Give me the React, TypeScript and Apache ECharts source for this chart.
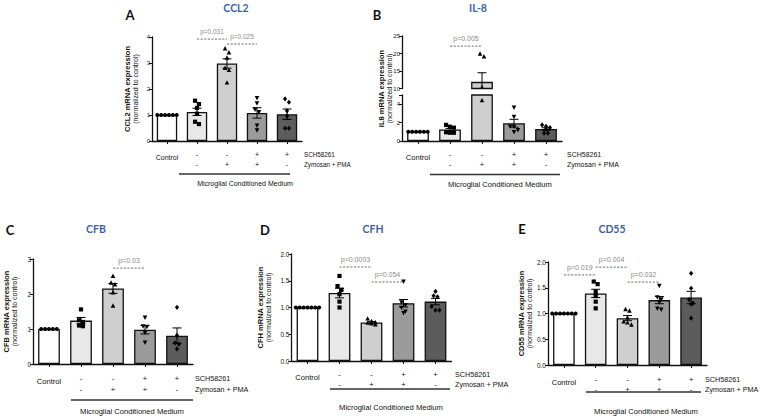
import React, { useEffect, useRef } from "react";
import * as echarts from "echarts";

// ---------- data ----------
const groups = ["Control", "MCM", "MCM + Zymosan/PMA", "MCM + SCH58261 + Zymosan/PMA", "MCM + SCH58261"];
const schRow = ["", "-", "-", "+", "+"];
const zymRow = ["", "-", "+", "+", "-"];
const barColors = ["#ffffff", "#e8e8e8", "#cfcfcf", "#9b9b9b", "#5c5c5c"];

// A: CCL2
const ccl2Mean = [1.0, 1.12, 2.98, 1.08, 1.03];
const ccl2Sem = [0, 0.14, 0.18, 0.2, 0.2];
const ccl2Points = [
  [1, 1, 1, 1, 1, 1],
  [1.55, 1.42, 1.27, 1.05, 0.74, 0.65],
  [3.55, 3.4, 3.2, 2.8, 2.72, 2.24],
  [1.66, 1.46, 1.22, 1.12, 0.6, 0.42],
  [1.62, 1.49, 1.16, 0.96, 0.49, 0.49],
];
const ccl2Ann = [[1, 2, 3.92], [2, 3, 3.73]];
const ccl2AnnText = ["p=0.031", "p=0.025"];

// B: IL-8 (broken axis)
const il8Mean = [1.0, 1.25, 11.9, 1.93, 1.3];
const il8Sem = [0, 0.12, 2.6, 0.43, 0.14];
const il8Points = [
  [1, 1, 1, 1, 1, 1],
  [1.75, 1.55, 1.45, 0.95, 0.9, 0.9],
  [19.9, 19.1, 10.3, 4.4],
  [3.66, 2.65, 1.6, 1.56, 1.2, 1.0],
  [1.75, 1.6, 1.45, 1.3, 0.85, 0.85],
];
const il8Ann = [[1, 2, 22.1]];
const il8AnnText = ["p=0.005"];

// C: CFB
const cfbMean = [1.0, 1.24, 2.16, 0.98, 0.81];
const cfbSem = [0, 0.09, 0.14, 0.12, 0.22];
const cfbPoints = [
  [1, 1, 1, 1, 1],
  [1.56, 1.25, 1.2, 1.1, 1.08],
  [2.51, 2.32, 2.27, 2.04, 1.66],
  [1.33, 1.08, 1.07, 0.9, 0.62],
  [1.62, 0.82, 0.6, 0.57, 0.43],
];
const cfbAnn = [[2, 3, 2.74]];
const cfbAnnText = ["p=0.03"];

// D: CFH
const cfhMean = [1.0, 1.27, 0.72, 1.08, 1.11];
const cfhSem = [0, 0.09, 0.02, 0.07, 0.06];
const cfhPoints = [
  [1, 1, 1, 1, 1, 1, 1],
  [1.59, 1.4, 1.33, 1.25, 1.11, 1.0],
  [0.79, 0.74, 0.72, 0.71, 0.7, 0.68],
  [1.49, 1.1, 1.05, 1.0, 0.93, 0.9],
  [1.3, 1.22, 1.2, 1.02, 0.95, 0.95],
];
const cfhAnn = [[1, 2, 1.757], [2, 3, 1.477]];
const cfhAnnText = ["p=0.0003", "p=0.054"];

// E: CD55
const cd55Mean = [1.0, 1.39, 0.91, 1.26, 1.31];
const cd55Sem = [0, 0.08, 0.05, 0.07, 0.12];
const cd55Points = [
  [1, 1, 1, 1, 1, 1, 1],
  [1.62, 1.57, 1.42, 1.34, 1.23, 1.1],
  [1.08, 1.05, 0.92, 0.84, 0.82, 0.78],
  [1.54, 1.32, 1.28, 1.22, 1.1, 1.08],
  [1.78, 1.49, 1.27, 1.2, 1.18, 0.91],
];
const cd55Ann = [[0, 1, 1.75], [1, 2, 1.9], [2, 3, 1.61]];
const cd55AnnText = ["p=0.019", "p=0.004", "p=0.032"];

// ---------- styling helpers ----------
const FONT = "'Liberation Sans', Arial, sans-serif";
const TITLE_FONT = "Lato, 'Open Sans', sans-serif";
const TITLE_BLUE = "#3d62ab";
const AXIS_COLOR = "#111";

function swarm(ys: number[], cx: number, d: number, step: number): number[] {
  const idx = ys.map((_, k) => k).sort((a, b) => ys[a] - ys[b]);
  const xs = new Array(ys.length).fill(cx);
  let cluster: number[] = [];
  const flush = () => {
    const n = cluster.length;
    cluster.forEach((k, j) => {
      xs[k] = cx + (j - (n - 1) / 2) * step;
    });
    cluster = [];
  };
  for (const k of idx) {
    if (cluster.length && ys[k] - ys[cluster[0]] > d) flush();
    cluster.push(k);
  }
  flush();
  return xs;
}

function marker(shapeIdx: number, x: number, y: number): any {
  const r = 2.3;
  if (shapeIdx === 0) return { type: "circle", shape: { cx: x, cy: y, r: 2.0 }, style: { fill: "#000" } };
  if (shapeIdx === 1) return { type: "rect", shape: { x: x - 2.1, y: y - 2.1, width: 4.2, height: 4.2 }, style: { fill: "#000" } };
  if (shapeIdx === 2)
    return { type: "polygon", shape: { points: [[x, y - r - 0.3], [x + r, y + r * 0.8], [x - r, y + r * 0.8]] }, style: { fill: "#000" } };
  if (shapeIdx === 3)
    return { type: "polygon", shape: { points: [[x, y + r + 0.3], [x + r, y - r * 0.8], [x - r, y - r * 0.8]] }, style: { fill: "#000" } };
  return { type: "polygon", shape: { points: [[x, y - 2.6], [x + 2.1, y], [x, y + 2.6], [x - 2.1, y]] }, style: { fill: "#000" } };
}

type PanelCfg = {
  g: number;
  grid: { left: number; top: number; width: number; height: number };
  min: number;
  max: number;
  interval: number;
  dec: number;
  hideLabel?: number;
  mean: number[];
  sem: number[];
  pts: number[][];
  ptFilter?: (v: number) => boolean;
  ann?: number[][];
  annText?: string[];
  annFont: number;
  tickFont: number;
  showX: boolean;
  labMargin: number;
  rowLh: number;
  ctrlLh: number;
  labFont: number;
  name?: string;
  nameGap?: number;
};

const panels: PanelCfg[] = [
  {
    g: 0, grid: { left: 152, top: 37, width: 150, height: 104 }, min: 0, max: 4, interval: 1, dec: 0,
    mean: ccl2Mean, sem: ccl2Sem, pts: ccl2Points, ann: ccl2Ann, annText: ccl2AnnText, annFont: 6.5, tickFont: 6,
    showX: true, labMargin: 8, rowLh: 10, ctrlLh: 16, labFont: 7, name: "CCL2", nameGap: 13,
  },
  {
    g: 1, grid: { left: 402, top: 95, width: 160, height: 46 }, min: 0, max: 5, interval: 2, dec: 0, hideLabel: 5,
    mean: il8Mean, sem: il8Sem, pts: il8Points, ptFilter: (v) => v <= 5.2, annFont: 7, tickFont: 6,
    showX: true, labMargin: 8, rowLh: 10, ctrlLh: 16, labFont: 7.6,
  },
  {
    g: 2, grid: { left: 402, top: 36, width: 160, height: 52.5 }, min: 10, max: 25, interval: 5, dec: 0,
    mean: il8Mean, sem: il8Sem, pts: il8Points, ptFilter: (v) => v >= 9.6, ann: il8Ann, annText: il8AnnText, annFont: 7, tickFont: 6,
    showX: false, labMargin: 8, rowLh: 10, ctrlLh: 16, labFont: 7.6,
  },
  {
    g: 3, grid: { left: 33, top: 259, width: 160, height: 105 }, min: 0, max: 3, interval: 1, dec: 0,
    mean: cfbMean, sem: cfbSem, pts: cfbPoints, ann: cfbAnn, annText: cfbAnnText, annFont: 7, tickFont: 6.5,
    showX: true, labMargin: 9, rowLh: 11, ctrlLh: 17, labFont: 7.6, name: "CFB", nameGap: 15,
  },
  {
    g: 4, grid: { left: 291.5, top: 254, width: 160, height: 107 }, min: 0, max: 2, interval: 0.5, dec: 1,
    mean: cfhMean, sem: cfhSem, pts: cfhPoints, ann: cfhAnn, annText: cfhAnnText, annFont: 7, tickFont: 6.5,
    showX: true, labMargin: 8, rowLh: 10, ctrlLh: 16, labFont: 7.6, name: "CFH", nameGap: 19,
  },
  {
    g: 5, grid: { left: 548, top: 262, width: 159, height: 103 }, min: 0, max: 2, interval: 0.5, dec: 1,
    mean: cd55Mean, sem: cd55Sem, pts: cd55Points, ann: cd55Ann, annText: cd55AnnText, annFont: 7, tickFont: 6.5,
    showX: true, labMargin: 9, rowLh: 10, ctrlLh: 16, labFont: 7.6, name: "CD55", nameGap: 13,
  },
];

function buildOption() {
  const grids: any[] = [];
  const xAxes: any[] = [];
  const yAxes: any[] = [];
  const series: any[] = [];

  panels.forEach((p) => {
    grids.push({ ...p.grid, containLabel: false });
    xAxes.push({
      type: "category",
      gridIndex: p.g,
      data: groups,
      show: p.showX,
      boundaryGap: true,
      axisLine: { show: true, lineStyle: { color: AXIS_COLOR, width: 1.3 } },
      axisTick: { show: true, alignWithLabel: true, length: 3, lineStyle: { color: AXIS_COLOR, width: 1 } },
      axisLabel: {
        show: true,
        interval: 0,
        margin: p.labMargin,
        color: "#111",
        fontFamily: FONT,
        formatter: (_v: string, i: number) => (i === 0 ? "{c|Control}" : `{s|${schRow[i]}}\n{s|${zymRow[i]}}`),
        rich: {
          s: { fontSize: p.labFont, lineHeight: p.rowLh, fontFamily: FONT, color: "#111" },
          c: { fontSize: p.labFont, lineHeight: p.ctrlLh, fontFamily: FONT, color: "#111" },
        },
      },
      splitLine: { show: false },
    });
    const yAx: any = {
      type: "value",
      gridIndex: p.g,
      min: p.min,
      max: p.max,
      interval: p.interval,
      splitLine: { show: false },
      axisLine: { show: true, lineStyle: { color: AXIS_COLOR, width: 1.3 } },
      axisTick: { show: true, length: 3, lineStyle: { color: AXIS_COLOR, width: 1 } },
      axisLabel: {
        fontSize: p.tickFont,
        margin: 2,
        color: "#111",
        fontFamily: FONT,
        formatter: (v: number) => (p.hideLabel !== undefined && v === p.hideLabel ? "" : v.toFixed(p.dec)),
      },
    };
    if (p.name) {
      yAx.name = `{b|${p.name} mRNA expression}\n{n|(normalized to control)}`;
      yAx.nameLocation = "middle";
      yAx.nameRotate = 90;
      yAx.nameGap = p.nameGap;
      yAx.nameTextStyle = {
        rich: {
          b: { fontWeight: "bold", fontSize: 7.5, lineHeight: 8, fontFamily: FONT, color: "#111" },
          n: { fontSize: 7, lineHeight: 8, fontFamily: FONT, color: "#111" },
        },
      };
    }
    yAxes.push(yAx);

    // bars
    series.push({
      type: "bar",
      xAxisIndex: p.g,
      yAxisIndex: p.g,
      barWidth: "68%",
      clip: true,
      silent: true,
      z: 2,
      itemStyle: { borderColor: "#111", borderWidth: 1.3 },
      data: p.mean.map((v, i) => ({ value: v, itemStyle: { color: barColors[i] } })),
    });

    // error bars (mean ± SEM)
    series.push({
      type: "custom",
      xAxisIndex: p.g,
      yAxisIndex: p.g,
      clip: true,
      silent: true,
      z: 3,
      data: p.mean.map((m, i) => [i, m, p.sem[i]]),
      renderItem: (_params: any, api: any) => {
        const i = api.value(0);
        const m = api.value(1);
        const s = api.value(2);
        if (!s) return null;
        const top = api.coord([i, m + s]);
        const bot = api.coord([i, m - s]);
        const x = top[0];
        const hw = 4.5;
        const st = { stroke: "#000", lineWidth: 1 };
        return {
          type: "group",
          children: [
            { type: "line", shape: { x1: x, y1: top[1], x2: x, y2: bot[1] }, style: st },
            { type: "line", shape: { x1: x - hw, y1: top[1], x2: x + hw, y2: top[1] }, style: st },
            { type: "line", shape: { x1: x - hw, y1: bot[1], x2: x + hw, y2: bot[1] }, style: st },
          ],
        };
      },
    });

    // individual points
    series.push({
      type: "custom",
      xAxisIndex: p.g,
      yAxisIndex: p.g,
      clip: true,
      silent: true,
      z: 4,
      data: p.mean.map((m, i) => [i, m]),
      renderItem: (_params: any, api: any) => {
        const i = api.value(0);
        const vals = p.pts[i].filter((v) => (p.ptFilter ? p.ptFilter(v) : true));
        if (!vals.length) return null;
        const ys = vals.map((v) => api.coord([i, v])[1]);
        const cx = api.coord([i, 0])[0];
        const xs = swarm(ys, cx, 4, 3.9);
        return { type: "group", children: ys.map((y, k) => marker(i, xs[k], y)) };
      },
    });

    // significance annotations
    if (p.ann && p.annText) {
      const texts = p.annText;
      series.push({
        type: "custom",
        xAxisIndex: p.g,
        yAxisIndex: p.g,
        clip: false,
        silent: true,
        z: 5,
        data: p.ann,
        renderItem: (params: any, api: any) => {
          const a = api.coord([api.value(0), api.value(2)]);
          const b = api.coord([api.value(1), api.value(2)]);
          return {
            type: "group",
            children: [
              {
                type: "line",
                shape: { x1: a[0], y1: a[1], x2: b[0], y2: b[1] },
                style: { stroke: "#6f6f6f", lineWidth: 1, lineDash: [2.2, 1.4] },
              },
              {
                type: "text",
                x: (a[0] + b[0]) / 2,
                y: a[1] - 7.5,
                style: {
                  text: texts[params.dataIndex],
                  fill: "#8a8a8a",
                  fontSize: p.annFont,
                  fontFamily: FONT,
                  align: "center",
                  verticalAlign: "middle",
                },
              },
            ],
          };
        },
      });
    }
  });

  const txt = (x: number, y: number, text: string, o: any = {}) => ({
    type: "text",
    x,
    y,
    silent: true,
    style: {
      text,
      fill: o.fill || "#111",
      fontSize: o.fontSize || 7,
      fontFamily: o.fontFamily || FONT,
      fontWeight: o.fontWeight || "normal",
      align: o.align || "center",
      verticalAlign: "middle",
    },
  });
  const hline = (x1: number, x2: number, y: number) => ({
    type: "line",
    silent: true,
    shape: { x1, y1: y, x2, y2: y },
    style: { stroke: "#333", lineWidth: 1.4 },
  });
  const letter = (x: number, y: number, t: string) =>
    txt(x, y, t, { fontSize: 13, fontFamily: TITLE_FONT, fontWeight: "bold", fill: "#111" });
  const title = (x: number, y: number, t: string) =>
    txt(x, y, t, { fontSize: 10.5, fontFamily: TITLE_FONT, fontWeight: "bold", fill: TITLE_BLUE });

  const graphic: any[] = [
    letter(130, 15, "A"), title(236, 8, "CCL2"),
    letter(377, 15, "B"), title(478, 8, "IL-8"),
    letter(10, 230, "C"), title(96, 229, "CFB"),
    letter(265, 230, "D"), title(373, 229, "CFH"),
    letter(522, 229, "E"), title(612, 229, "CD55"),

    txt(304, 154, "SCH58261", { align: "left", fontSize: 6.3 }),
    txt(304, 164, "Zymosan + PMA", { align: "left", fontSize: 6.3 }),
    hline(179, 290, 174),
    txt(245, 183, "Microglial Conditioned Medium", { fontSize: 7 }),

    txt(567, 154, "SCH58261", { align: "left", fontSize: 7 }),
    txt(567, 164, "Zymosan + PMA", { align: "left", fontSize: 7 }),
    hline(430, 560, 174.5),
    txt(500, 184, "Microglial Conditioned Medium", { fontSize: 7.6 }),

    txt(195, 378, "SCH58261", { align: "left", fontSize: 7.2 }),
    txt(195, 389, "Zymosan + PMA", { align: "left", fontSize: 7.2 }),
    hline(71, 193, 400),
    txt(132, 411, "Microglial Conditioned Medium", { fontSize: 7.6 }),

    txt(455, 374, "SCH58261", { align: "left", fontSize: 7.2 }),
    txt(455, 384, "Zymosan + PMA", { align: "left", fontSize: 7.2 }),
    hline(330, 450, 389),
    txt(391, 407, "Microglial Conditioned Medium", { fontSize: 7.6 }),

    txt(705, 379, "SCH58261", { align: "left", fontSize: 7.2 }),
    txt(705, 389, "Zymosan + PMA", { align: "left", fontSize: 7.2 }),
    hline(586, 701, 392),
    txt(646, 411, "Microglial Conditioned Medium", { fontSize: 7.6 }),

    {
      type: "text",
      x: 385.5,
      y: 88.5,
      rotation: Math.PI / 2,
      silent: true,
      style: {
        text: "{b|IL8 mRNA expression}\n{n|(normalized to control)}",
        align: "center",
        verticalAlign: "middle",
        rich: {
          b: { fontWeight: "bold", fontSize: 7.5, lineHeight: 8, fontFamily: FONT, fill: "#111" },
          n: { fontSize: 7, lineHeight: 8, fontFamily: FONT, fill: "#111" },
        },
      },
    },
  ];

  return {
    animation: false,
    backgroundColor: "#ffffff",
    grid: grids,
    xAxis: xAxes,
    yAxis: yAxes,
    series,
    graphic,
  };
}

export default function App() {
  const ref = useRef<HTMLDivElement>(null);
  useEffect(() => {
    if (!ref.current) return;
    const chart = echarts.init(ref.current, undefined, { renderer: "svg" });
    chart.setOption(buildOption() as any);
    return () => chart.dispose();
  }, []);
  return (
    <div
      ref={ref}
      style={{ position: "fixed", left: 0, top: 0, width: 760, height: 417, background: "#fff" }}
    />
  );
}
